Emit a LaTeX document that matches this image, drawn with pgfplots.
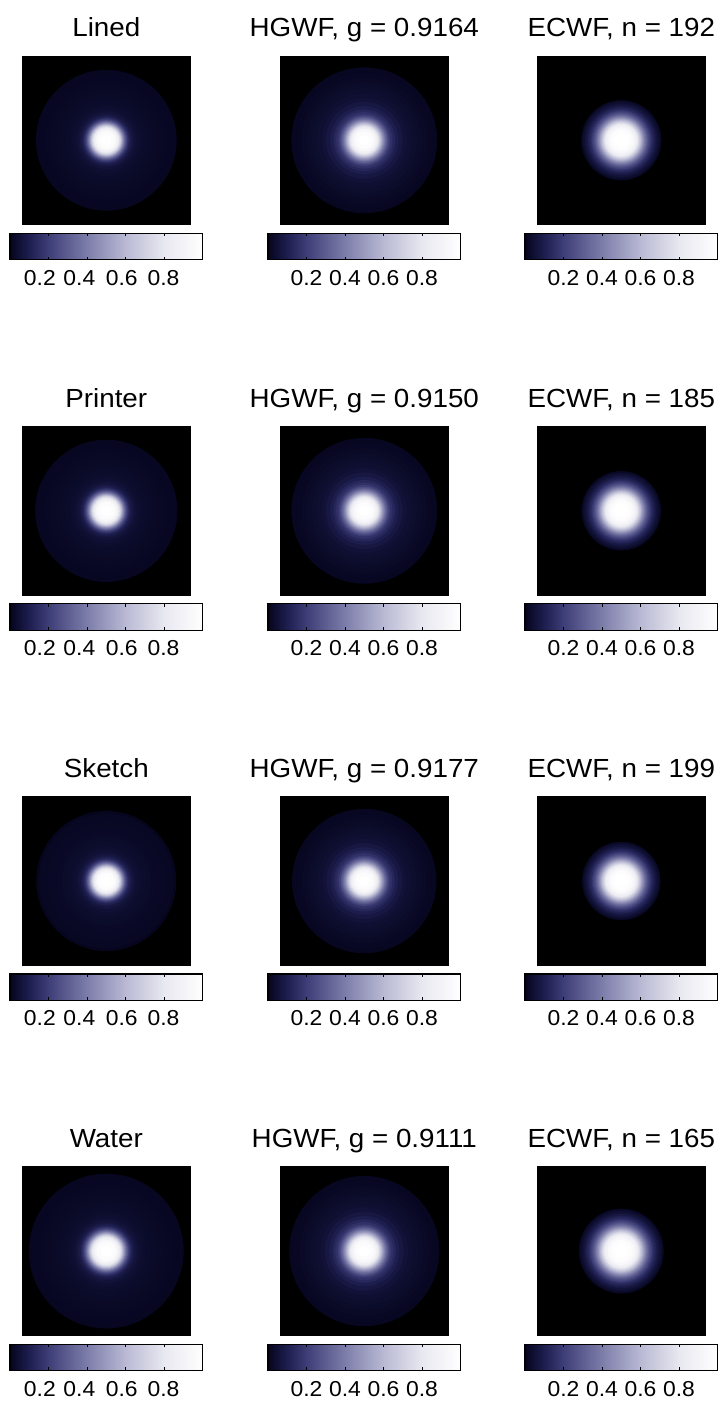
\documentclass[border=0pt]{standalone}
\usepackage{fontspec}
\setmainfont{Liberation Sans}[FakeStretch=1.06]
\usepackage{pgfplots}
\usepackage{pgfplotstable}
\pgfplotsset{compat=1.18}

% radial profiles: r (fraction of half-width), intensity v ; listed outside -> inside
\pgfplotstableread{
r v
0.83 0.008
0.78 0.010
0.72 0.013
0.66 0.016
0.60 0.019
0.54 0.022
0.48 0.026
0.42 0.033
0.38 0.042
0.34 0.055
0.31 0.072
0.29 0.095
0.27 0.125
0.26 0.150
0.25 0.180
0.24 0.220
0.23 0.270
0.22 0.320
0.21 0.380
0.20 0.450
0.19 0.520
0.18 0.600
0.17 0.680
0.16 0.750
0.15 0.810
0.14 0.870
0.12 0.940
0.10 0.975
0.06 1.000
}\tabL
\pgfplotstableread{
r v
0.85 0.008
0.835 0.000
0.82 0.011
0.78 0.013
0.72 0.015
0.66 0.018
0.60 0.021
0.54 0.024
0.48 0.029
0.42 0.036
0.38 0.046
0.34 0.060
0.31 0.080
0.29 0.105
0.27 0.135
0.26 0.160
0.25 0.195
0.24 0.235
0.23 0.285
0.22 0.340
0.21 0.400
0.20 0.470
0.19 0.540
0.18 0.620
0.17 0.700
0.16 0.770
0.15 0.830
0.14 0.880
0.12 0.945
0.10 0.980
0.06 1.000
}\tabS
\pgfplotstableread{
r v
0.86 0.009
0.80 0.014
0.74 0.019
0.68 0.025
0.62 0.032
0.56 0.041
0.50 0.054
0.45 0.072
0.40 0.096
0.36 0.128
0.33 0.160
0.30 0.205
0.28 0.250
0.27 0.280
0.26 0.315
0.25 0.350
0.24 0.395
0.23 0.440
0.22 0.490
0.21 0.540
0.20 0.595
0.19 0.650
0.18 0.710
0.17 0.770
0.16 0.820
0.15 0.870
0.13 0.935
0.10 0.975
0.06 1.000
}\tabH
\pgfplotstableread{
r v
0.47 0.018
0.45 0.035
0.43 0.055
0.41 0.080
0.39 0.108
0.37 0.140
0.35 0.178
0.34 0.200
0.33 0.225
0.32 0.252
0.31 0.282
0.30 0.315
0.29 0.350
0.28 0.390
0.27 0.430
0.26 0.475
0.25 0.520
0.24 0.570
0.23 0.620
0.22 0.670
0.21 0.720
0.20 0.770
0.19 0.815
0.18 0.855
0.17 0.890
0.15 0.945
0.12 0.985
0.08 1.000
}\tabE

\pgfplotsset{
  /pgf/number format/assume math mode=true,
  colormap={navywhite}{rgb255(0cm)=(5,5,30); rgb255(1cm)=(30,30,80); rgb255(2cm)=(62,62,120); rgb255(4cm)=(125,125,170); rgb255(6cm)=(185,185,212); rgb255(8cm)=(232,232,240); rgb255(10cm)=(255,255,255)},
  img/.style={
    scale only axis, width=84.3pt, height=84.3pt,
    anchor=north west,
    xmin=-1, xmax=1, ymin=-1, ymax=1,
    ticks=none,
    axis line style={draw=black},
    axis background/.style={fill=black},
    point meta min=0, point meta max=1,
    title style={at={(0.5,1)}, anchor=base, yshift=3.5pt, inner sep=0pt,
      font=\fontsize{13.1}{15}\selectfont},
    colorbar horizontal,
    colorbar style={
      scale only axis, width=96.25pt, height=13.15pt,
      at={(parent axis.south)}, anchor=north, yshift=4.15pt,
      xtick={0.2,0.4,0.6,0.8},
      xtick pos=both, xtick align=inside,
      major tick length=1.5pt,
      xticklabel pos=lower,
      xticklabel style={anchor=base, yshift=-12.8pt, inner sep=0pt,
        font=\fontsize{10.8}{12}\selectfont},
      tick style={black, line width=0.5pt},
      axis line style={black, line width=0.6pt},
      ytick=\empty,
    },
  },
  colone/.style={colorbar style={
      xticklabels={,,,},
      extra x ticks={0.155,0.36,0.58,0.797},
      extra x tick labels={0.2,0.4,0.6,0.8},
      extra x tick style={major tick length=0pt},
  }},
  colother/.style={},
}

\newcommand{\cell}[6]{%
\begin{axis}[img, at={(#1pt,#2pt)}, title={#3}, #6]
\addplot[scatter, only marks, mark=*,
  scatter/use mapped color={draw=mapped color, fill=mapped color},
  point meta=\thisrow{v},
  visualization depends on={#5*42.15*\thisrow{r} \as \rr},
  scatter/@pre marker code/.append style={/tikz/mark size=\rr}]
  table[x expr=0, y expr=0]{#4};
\end{axis}}

\begin{document}
\begin{tikzpicture}
\path[use as bounding box] (0pt,0pt) rectangle (360.5pt,701.5pt);
% row 1
\cell{11}{673.5}{Lined}{\tabL}{1.0}{colone}
\cell{140}{673.5}{HGWF, g = 0.9164}{\tabH}{1.0}{colother}
\cell{268.5}{673.5}{ECWF, n = 192}{\tabE}{1.0}{colother}
% row 2
\cell{11}{488.25}{Printer}{\tabL}{1.01}{colone}
\cell{140}{488.25}{HGWF, g = 0.9150}{\tabH}{1.0}{colother}
\cell{268.5}{488.25}{ECWF, n = 185}{\tabE}{0.99}{colother}
% row 3
\cell{11}{303.15}{Sketch}{\tabS}{0.97}{colone}
\cell{140}{303.15}{HGWF, g = 0.9177}{\tabH}{0.99}{colother}
\cell{268.5}{303.15}{ECWF, n = 199}{\tabE}{0.98}{colother}
% row 4
\cell{11}{118.1}{Water}{\tabL}{1.1}{colone}
\cell{140}{118.1}{HGWF, g = 0.9111}{\tabH}{1.03}{colother}
\cell{268.5}{118.1}{ECWF, n = 165}{\tabE}{1.06}{colother}
\end{tikzpicture}
\end{document}
